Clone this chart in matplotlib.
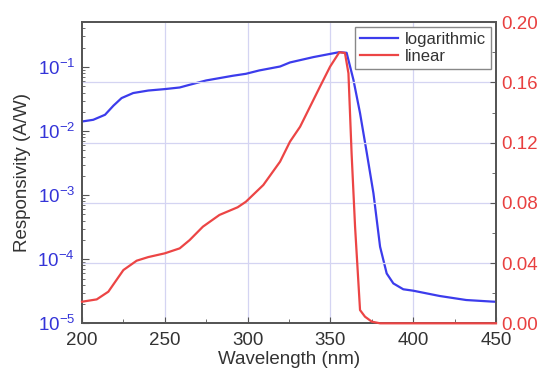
import matplotlib
matplotlib.use("Agg")
import matplotlib.pyplot as plt
from matplotlib.ticker import MultipleLocator, LogLocator, NullFormatter

plt.rcParams['font.family'] = ['Liberation Sans', 'DejaVu Sans']
plt.rcParams['mathtext.fontset'] = 'custom'
plt.rcParams['mathtext.rm'] = 'Liberation Sans'
plt.rcParams['mathtext.it'] = 'Liberation Sans:italic'
plt.rcParams['mathtext.bf'] = 'Liberation Sans:bold'
plt.rcParams['mathtext.default'] = 'regular'

# Logarithmic responsivity (A/W)
log_wl = [200, 206.8, 213.9, 219, 223.9, 230.9, 240, 250, 259, 265, 275, 291, 299, 307,
          319.6, 325.6, 339.7, 355.4, 359.8, 363.9, 367.9, 372, 376, 380, 384,
          388, 394, 400, 416, 432, 448, 450]
log_resp = [0.01413, 0.01503, 0.0180, 0.0250, 0.0328, 0.0393, 0.0430, 0.0453, 0.0480,
            0.0529, 0.0618, 0.0731, 0.0785, 0.0885, 0.102, 0.118, 0.143, 0.171,
            0.167, 0.0634, 0.0191, 0.00453, 0.00107, 1.57e-4, 6.0e-5, 4.2e-5,
            3.4e-5, 3.23e-5, 2.67e-5, 2.31e-5, 2.18e-5, 2.17e-5]

# Linear responsivity (A/W)
lin_wl = [200, 208.9, 215.9, 220, 225, 233, 240, 250, 259, 265, 273, 283, 294, 299,
          309.5, 319.6, 325.6, 331.7, 343.7, 349.8, 355.4, 358.8, 360.9, 362.8,
          364.9, 367.9, 370.9, 375, 380, 400, 425, 450]
lin_resp = [0.01435, 0.0159, 0.0210, 0.0275, 0.0354, 0.0416, 0.0440, 0.0465, 0.0498,
            0.0553, 0.0642, 0.0720, 0.0771, 0.0808, 0.0919, 0.1074, 0.1207,
            0.1306, 0.1572, 0.1705, 0.1801, 0.1796, 0.1661, 0.1130, 0.0642,
            0.0088, 0.0044, 0.0011, 0.0, 0.0, 0.0, 0.0]

x_ticks = [200, 250, 300, 350, 400, 450]
right_ticks = [0.00, 0.04, 0.08, 0.12, 0.16, 0.20]

BLUE = '#3c3cec'
RED = '#ec4545'
BLUE_TXT = '#3434d8'
RED_TXT = '#e84040'
SPINE = '#555555'
GRID = '#d4d4f2'

fig = plt.figure(figsize=(5.42, 3.77), dpi=100)
ax = fig.add_axes([0.1513, 0.1424, 0.7638, 0.7985])
ax2 = ax.twinx()

# grid (vertical at x majors, horizontal at right-axis majors)
for xv in x_ticks[1:-1]:
    ax.axvline(xv, color=GRID, lw=0.9, zorder=0)
for yv in right_ticks[1:-1]:
    ax2.axhline(yv, color=GRID, lw=0.9, zorder=0)

l1, = ax.plot(log_wl, log_resp, color=BLUE, lw=1.6, label='logarithmic', zorder=3)
l2, = ax2.plot(lin_wl, lin_resp, color=RED, lw=1.6, label='linear', zorder=3,
               clip_on=False)

ax.set_yscale('log')
ax.set_xlim(200, 450)
ax.set_ylim(1e-5, 0.5)
ax2.set_ylim(0, 0.2)

ax.set_xticks(x_ticks)
ax.xaxis.set_minor_locator(MultipleLocator(25))
ax.yaxis.set_major_locator(LogLocator(base=10, numticks=10))
ax.yaxis.set_minor_locator(LogLocator(base=10, subs=range(2, 10), numticks=20))
ax.yaxis.set_minor_formatter(NullFormatter())
ax2.set_yticks(right_ticks)
ax2.set_yticklabels([f'{v:.2f}' for v in right_ticks])
ax2.yaxis.set_minor_locator(MultipleLocator(0.02))

FS = 13.5
ax.tick_params(axis='x', which='both', direction='in', top=False, labelsize=FS,
               labelcolor='#333333', color=SPINE, pad=6)
ax.tick_params(axis='x', which='major', length=4)
ax.tick_params(axis='x', which='minor', length=3)
ax.tick_params(axis='y', which='both', direction='in', labelsize=FS,
               labelcolor=BLUE_TXT, color=SPINE, pad=5)
ax.tick_params(axis='y', which='major', length=5)
ax.tick_params(axis='y', which='minor', length=2.5)
ax2.tick_params(axis='y', which='both', direction='in', labelsize=FS,
                labelcolor=RED_TXT, color=SPINE, pad=4)
ax2.tick_params(axis='y', which='major', length=4)
ax2.tick_params(axis='y', which='minor', length=3)

for a in (ax, ax2):
    for s in a.spines.values():
        s.set_color(SPINE)
        s.set_linewidth(1.3)

ax.set_xlabel('Wavelength (nm)', fontsize=FS, color='#333333', labelpad=2)
ax.set_ylabel('Responsivity (A/W)', fontsize=FS, color='#333333', labelpad=5)

leg = ax2.legend([l1, l2], ['logarithmic', 'linear'], loc='upper right',
                 fontsize=12, frameon=True, fancybox=False, handlelength=2.3,
                 borderpad=0.3, labelspacing=0.1, handletextpad=0.4,
                 borderaxespad=0.3, framealpha=1)
leg.get_frame().set_edgecolor('#888888')
leg.get_frame().set_linewidth(1.0)
for t in leg.get_texts():
    t.set_color('#333333')

fig.savefig('out.png', dpi=100)
